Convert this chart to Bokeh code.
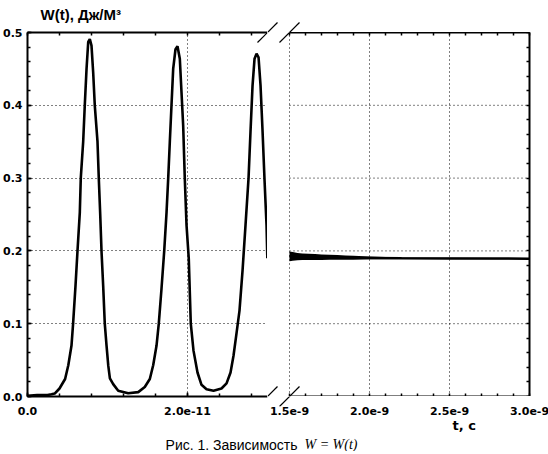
import numpy as np
from bokeh.plotting import figure
from bokeh.layouts import column, row
from bokeh.models import (Range1d, LinearAxis, FixedTicker, Grid, Label,
                          PrintfTickFormatter, CustomJSTickFormatter)
from bokeh.embed import file_html
from bokeh.resources import INLINE

# ---------------- data ----------------
# left part: t in units of 1e-11 s, W in J/m^3
t_left_e11 = [0.0, 0.12, 0.25, 0.30, 0.34, 0.40, 0.47, 0.51, 0.55, 0.57,
              0.60, 0.625, 0.654, 0.666, 0.696, 0.716, 0.738, 0.759, 0.779, 0.80,
              0.821, 0.841, 0.875, 0.891, 0.909, 0.925, 0.946, 0.966, 0.988, 1.01,
              1.03, 1.071, 1.134, 1.259, 1.384, 1.466, 1.529, 1.571, 1.613, 1.641,
              1.675, 1.709, 1.738, 1.759, 1.779, 1.80, 1.821, 1.85, 1.875, 1.904,
              1.925, 1.946, 1.966, 1.988, 2.016, 2.041, 2.075, 2.125, 2.175, 2.238,
              2.325, 2.425, 2.488, 2.538, 2.575, 2.613, 2.65, 2.688, 2.725, 2.763,
              2.788, 2.813, 2.838, 2.863, 2.888, 2.913, 2.938, 2.963, 2.988, 2.998]
w_left = [0.001, 0.002, 0.002, 0.003, 0.004, 0.011, 0.024, 0.043, 0.070, 0.100,
          0.152, 0.200, 0.253, 0.300, 0.350, 0.400, 0.450, 0.487, 0.491, 0.482,
          0.445, 0.400, 0.350, 0.300, 0.250, 0.200, 0.152, 0.100, 0.070, 0.042,
          0.025, 0.017, 0.008, 0.0045, 0.006, 0.013, 0.024, 0.043, 0.070, 0.100,
          0.148, 0.200, 0.253, 0.300, 0.350, 0.400, 0.450, 0.477, 0.481, 0.464,
          0.418, 0.372, 0.300, 0.235, 0.189, 0.100, 0.063, 0.033, 0.016, 0.010,
          0.008, 0.011, 0.018, 0.033, 0.056, 0.087, 0.118, 0.173, 0.235, 0.300,
          0.365, 0.427, 0.464, 0.471, 0.466, 0.427, 0.365, 0.297, 0.235, 0.190]

# right part: t in units of 1e-9 s, band centre and half-width of the fast oscillation
t_right_e9 = [1.50, 1.52, 1.55, 1.58, 1.62, 1.66, 1.70, 1.75, 1.80, 1.85,
              1.90, 2.00, 2.20, 2.50, 2.80, 3.00]
w_right_mid = [0.1925, 0.1925, 0.1922, 0.1920, 0.1918, 0.1916, 0.1914, 0.1912, 0.1910, 0.1908,
               0.1906, 0.1904, 0.1900, 0.1897, 0.1895, 0.1893]
w_right_amp = [0.0068, 0.0060, 0.0050, 0.0045, 0.0042, 0.0040, 0.0038, 0.0035, 0.0032, 0.0030,
               0.0026, 0.0018, 0.0010, 0.0008, 0.0008, 0.0008]

y_ticks = [0.0, 0.1, 0.2, 0.3, 0.4, 0.5]
grid_y = [0.1, 0.2, 0.3, 0.4]
x_ticks_left = [0.0, 2.0e-11]
x_ticks_right = [1.5e-9, 2.0e-9, 2.5e-9, 3.0e-9]
grid_x_left = [2.0e-11]
grid_x_right = [1.5e-9, 2.0e-9, 2.5e-9]

title_text = "W(t), Дж/М³"
x_label_text = "t, c"
caption_text = "Рис. 1. Зависимость"
caption_formula = "W = W(t)"

# ---------------- derived ----------------
t_left = np.array(t_left_e11) * 1e-11
t_right = np.array(t_right_e9) * 1e-9
mid = np.array(w_right_mid)
amp = np.array(w_right_amp)

y_minor = [round(0.02 * i, 2) for i in range(26)]
x_minor_left = [0.4e-11 * i for i in range(8)]
x_minor_right = [1.5e-9 + 0.1e-9 * i for i in range(16)]

XL0, XL1 = 0.0, 3.0e-11          # left panel
XRD0, XR1 = 1.5e-9, 3.0e-9       # right panel (data part)
Y0, Y1 = 0.0, 0.5

FW_L, FW_R, GAP = 240, 240, 22   # frame widths (px) and the break gap
FH = 364                          # frame height
BL, BR = 26, 20                   # outer borders
TOP_L, TOP_R = 24, 32             # top strips
SL = 10                           # half size of a break mark

dxL = (XL1 - XL0) / FW_L
dxR = (XR1 - XRD0) / FW_R
dy = (Y1 - Y0) / FH
XR0 = XRD0 - GAP * dxR

TICK_FONT = "DejaVu Sans"
TICK_SIZE = "11px"
xfmt = CustomJSTickFormatter(code="return tick == 0 ? '0.0' : tick.toExponential(1).replace('+', '');")


def mkfig(fw, fh, xr, yr, bl=0, br=0, bt=0, bb=0):
    p = figure(frame_width=fw, frame_height=fh, x_range=Range1d(*xr), y_range=Range1d(*yr),
               x_axis_location=None, y_axis_location=None, toolbar_location=None,
               output_backend="svg", min_border_left=bl, min_border_right=br,
               min_border_top=bt, min_border_bottom=bb, outline_line_color=None,
               background_fill_color="white", border_fill_color="white")
    p.grid.visible = False
    return p


def style_axis(ax, line=True, labels=True):
    ax.axis_line_color = "black" if line else None
    ax.axis_line_width = 2
    ax.major_tick_line_color = "black" if line else None
    ax.minor_tick_line_color = "black" if line else None
    ax.major_tick_line_width = 1.5
    ax.minor_tick_line_width = 1.5
    ax.major_tick_in = 4
    ax.major_tick_out = 0
    ax.minor_tick_in = 3
    ax.minor_tick_out = 0
    ax.major_label_text_font = TICK_FONT
    ax.major_label_text_font_style = "bold"
    ax.major_label_text_font_size = TICK_SIZE
    ax.major_label_text_color = "black"
    if not labels:
        ax.major_label_standoff = 0


def slashes(p, centres, d):
    x0, y0, x1, y1 = [], [], [], []
    for cx in centres:
        for cy in (Y0, Y1):
            x0.append(cx - SL * d); y0.append(cy - SL * dy)
            x1.append(cx + SL * d); y1.append(cy + SL * dy)
    p.segment(x0=x0, y0=y0, x1=x1, y1=y1, line_color="black", line_width=1.2)


left_centres = [XL1, XL1 + GAP * dxL]
right_centres = [XR0, XRD0]

# ---------------- left column ----------------
tL = mkfig(BL + FW_L, TOP_L, (XL0 - BL * dxL, XL1), (Y1 + (TOP_R - TOP_L) * dy, Y1 + TOP_R * dy))
tL.add_layout(Label(x=XL0, y=Y1 + 18 * dy, x_offset=-13, y_offset=0, text=title_text,
                    text_font="Liberation Sans", text_font_style="bold", text_font_size="15px",
                    text_color="black", text_baseline="alphabetic"))
slashes(tL, left_centres, dxL)

pL = mkfig(FW_L, FH, (XL0, XL1), (Y0, Y1), bl=BL, bt=TOP_R - TOP_L)
pL.add_layout(Grid(dimension=0, ticker=FixedTicker(ticks=grid_x_left), grid_line_color="black",
                   grid_line_dash="1 3", grid_line_width=1), "center")
pL.add_layout(Grid(dimension=1, ticker=FixedTicker(ticks=grid_y), grid_line_color="black",
                   grid_line_dash="1 3", grid_line_width=1), "center")

axL = LinearAxis(ticker=FixedTicker(ticks=y_ticks, minor_ticks=y_minor),
                 formatter=PrintfTickFormatter(format="%.1f"))
style_axis(axL)
axL.major_label_standoff = 5
pL.add_layout(axL, "left")

axB = LinearAxis(ticker=FixedTicker(ticks=x_ticks_left, minor_ticks=x_minor_left), formatter=xfmt)
style_axis(axB)
axB.major_label_standoff = 10
pL.add_layout(axB, "below")

axT = LinearAxis(ticker=FixedTicker(ticks=[], minor_ticks=x_minor_left + x_ticks_left))
style_axis(axT, labels=False)
pL.add_layout(axT, "above")

pL.line(t_left, w_left, line_color="black", line_width=2.6)
slashes(pL, left_centres, dxL)

# ---------------- right column ----------------
tR = mkfig(GAP + FW_R + BR, TOP_R, (XR0, XR1 + BR * dxR), (Y1, Y1 + TOP_R * dy))
slashes(tR, right_centres, dxR)

pR = mkfig(GAP + FW_R, FH, (XR0, XR1), (Y0, Y1), br=BR)
pR.add_layout(Grid(dimension=0, ticker=FixedTicker(ticks=grid_x_right), grid_line_color="black",
                   grid_line_dash="1 3", grid_line_width=1), "center")
pR.segment(x0=[XRD0] * len(grid_y), x1=[XR1] * len(grid_y), y0=grid_y, y1=grid_y,
           line_color="black", line_dash="1 3", line_width=1)

axB2 = LinearAxis(ticker=FixedTicker(ticks=[], minor_ticks=x_minor_right), bounds=(XRD0, XR1))
style_axis(axB2, labels=False)
pR.add_layout(axB2, "below")

axT2 = LinearAxis(ticker=FixedTicker(ticks=[], minor_ticks=x_minor_right), bounds=(XRD0, XR1))
style_axis(axT2, labels=False)
pR.add_layout(axT2, "above")

axR2 = LinearAxis(ticker=FixedTicker(ticks=[], minor_ticks=y_minor))
style_axis(axR2, labels=False)
pR.add_layout(axR2, "right")

pR.varea(x=t_right, y1=mid - amp, y2=mid + amp, fill_color="black")
pR.line(t_right, mid, line_color="black", line_width=2.5)
slashes(pR, right_centres, dxR)

bR = mkfig(GAP + FW_R, SL, (XR0, XR1), (Y0 - SL * dy, Y0), br=BR)
axB3 = LinearAxis(ticker=FixedTicker(ticks=x_ticks_right), formatter=xfmt)
style_axis(axB3, line=False)
axB3.major_label_standoff = 0
bR.add_layout(axB3, "below")
slashes(bR, right_centres, dxR)

# ---------------- caption strip ----------------
CW, CH = BL + FW_L + GAP + FW_R + BR, 34
cap = mkfig(CW, CH, (0, CW), (CH, 0))
cap.add_layout(Label(x=452, y=0, text=x_label_text, text_font=TICK_FONT, text_font_style="bold",
                     text_font_size="13px", text_color="black", text_baseline="top"))
cap.add_layout(Label(x=297, y=27, text=caption_text, text_align="right", text_font="Liberation Sans",
                     text_font_size="14px", text_color="black", text_baseline="alphabetic"))
cap.add_layout(Label(x=304, y=27, text=caption_formula, text_align="left", text_font="Liberation Serif",
                     text_font_style="italic", text_font_size="14px", text_color="black",
                     text_baseline="alphabetic"))

layout = column(row(column(tL, pL, spacing=0), column(tR, pR, bR, spacing=0), spacing=0), cap, spacing=0)
open("out.html", "w").write(file_html(layout, INLINE))
